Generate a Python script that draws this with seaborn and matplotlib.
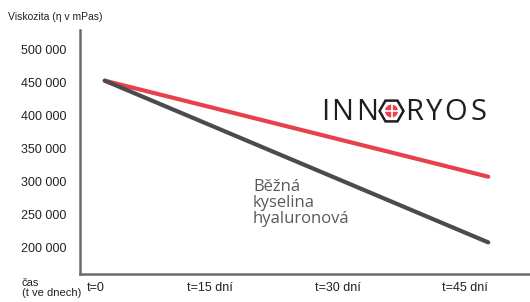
import matplotlib
matplotlib.use("Agg")
import matplotlib.pyplot as plt
import seaborn as sns
import pandas as pd
import numpy as np
from matplotlib.patches import RegularPolygon, Circle

# Data
days = [0, 45]
innoryos = [453500, 308000]
bezna = [453500, 208500]
x_ticks = [0, 15, 30, 45]
x_labels = ["t=0", "t=15 dní", "t=30 dní", "t=45 dní"]
y_ticks = [200000, 250000, 300000, 350000, 400000, 450000, 500000]
y_labels = ["200 000", "250 000", "300 000", "350 000", "400 000", "450 000", "500 000"]

df = pd.DataFrame({
    "t": days + days,
    "viskozita": innoryos + bezna,
    "produkt": ["INNORYOS"] * 2 + ["Běžná"] * 2,
})

sns.set_style("white")
plt.rcParams["font.family"] = ["Liberation Sans", "DejaVu Sans"]

fig = plt.figure(figsize=(5.3, 3.02), dpi=100)
ax = fig.add_axes([80 / 530, 28 / 302, 1 - 80 / 530, 272 / 302 - 28 / 302])

sns.lineplot(data=df, x="t", y="viskozita", hue="produkt",
             palette={"INNORYOS": "#e8414b", "Běžná": "#4b4b4d"},
             linewidth=3, legend=False, ax=ax)

ax.set_xlim(-2.9, 49.9)
ax.set_ylim(160600, 530300)
ax.set_xticks(x_ticks)
ax.set_xticklabels(x_labels, ha="right")
ax.set_yticks(y_ticks)
ax.set_yticklabels(y_labels)
ax.tick_params(axis="both", length=0, labelsize=9, colors="#222222")
ax.tick_params(axis="y", pad=10)
ax.tick_params(axis="x", pad=6)
ax.set_xlabel("")
ax.set_ylabel("")
sns.despine(ax=ax)
for s in ["left", "bottom"]:
    ax.spines[s].set_color("#6b6b6b")
    ax.spines[s].set_linewidth(1.8)

# axis captions
fig.text(8 / 530, 1 - 17 / 302, "Viskozita (η v mPas)", fontsize=7.5,
         color="#222222", va="center", ha="left")
fig.text(22 / 530, 1 - 288 / 302, "čas\n(t ve dnech)", fontsize=8,
         color="#222222", va="center", ha="left", linespacing=0.95)

# annotation
fig.text(253 / 530, 1 - 203 / 302, "Běžná\nkyselina\nhyaluronová",
         fontsize=12, color="#5a5a5a", va="center", ha="left",
         family=["Open Sans", "DejaVu Sans"], linespacing=1.0)

# logo: letters placed one by one to get the wide spacing
logo_y = 1 - 112 / 302
logo_font = dict(fontsize=21, color="#1e1e1e", ha="center", va="center",
                 family=["Open Sans", "DejaVu Sans"])
for ch, xc in [("I", 325), ("N", 342), ("N", 367), ("R", 414), ("Y", 434), ("O", 456), ("S", 479)]:
    fig.text(xc / 530, logo_y, ch, **logo_font)
hx, hy = 391.5 / 530, 1 - 111 / 302
hex_outer = RegularPolygon((391.5, 302 - 111), numVertices=6, radius=12,
                           orientation=np.pi / 6, transform=None,
                           facecolor="none", edgecolor="#1e1e1e", linewidth=1.8)
red = Circle((391.5, 302 - 111), radius=6.5, transform=None,
             facecolor="#e8414b", edgecolor="none")
fig.patches.extend([hex_outer, red])
fig.lines.append(plt.Line2D([385 / 530, 398 / 530], [hy, hy],
                            transform=fig.transFigure, color="white", lw=1.2))
fig.lines.append(plt.Line2D([hx, hx], [hy - 6.5 / 302, hy + 6.5 / 302],
                            transform=fig.transFigure, color="white", lw=1.2))

fig.savefig("out.png", dpi=100)
